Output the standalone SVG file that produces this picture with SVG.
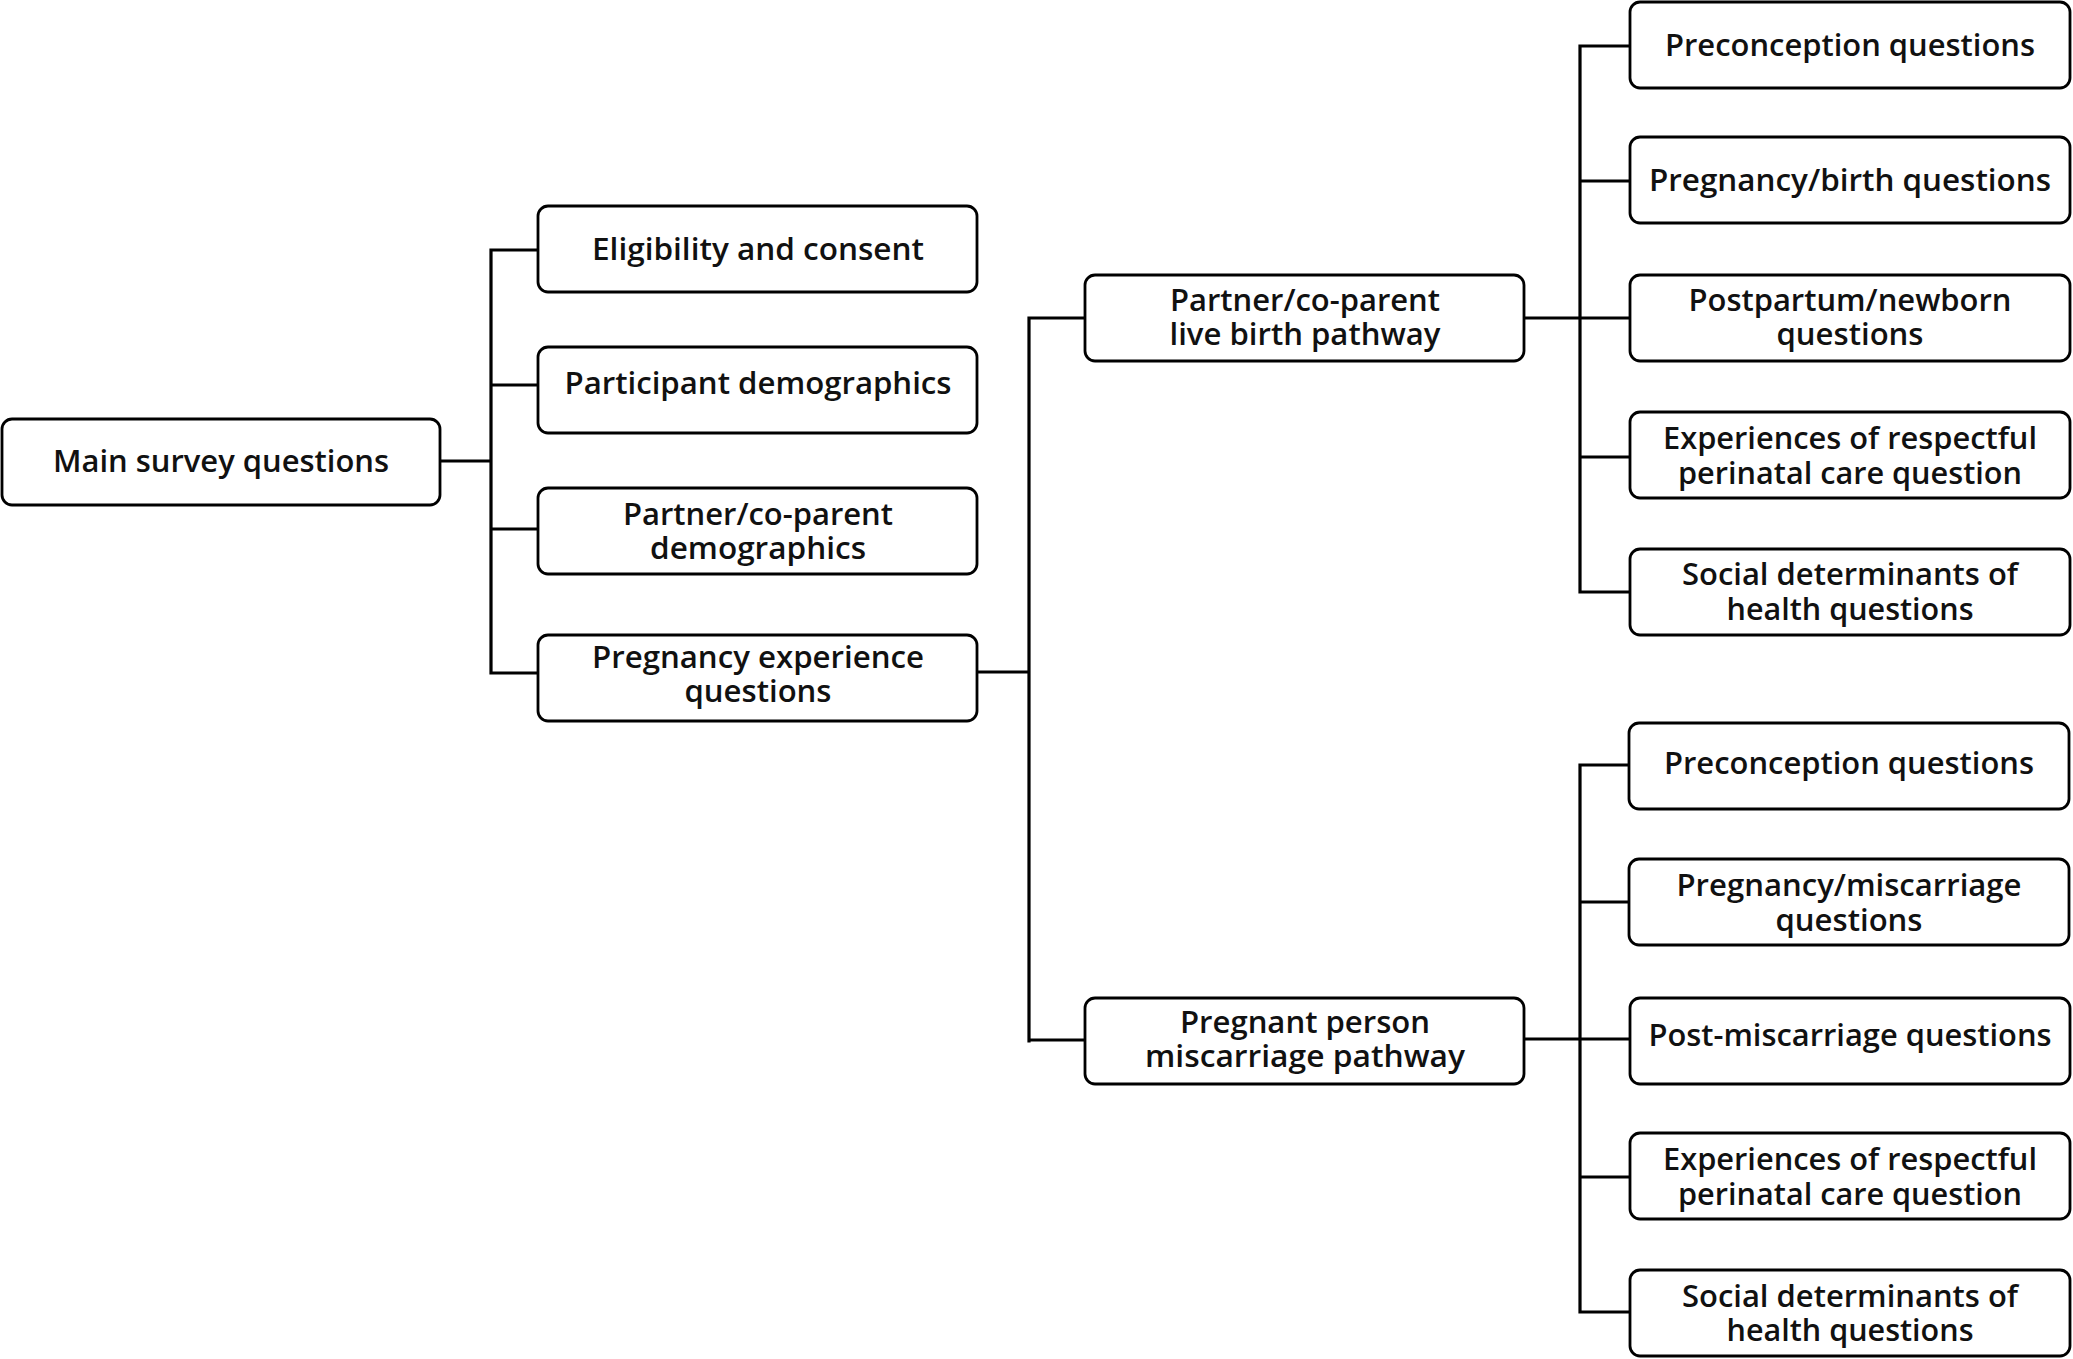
<svg xmlns="http://www.w3.org/2000/svg" width="2073" height="1359" viewBox="0 0 2073 1359">
<style>
.box{fill:#fff;stroke:#000;stroke-width:2.8}
.t{font-family:"Open Sans","Noto Sans",sans-serif;font-weight:600;font-size:30px;fill:#111;text-anchor:middle}
.c{fill:none;stroke:#000;stroke-width:3.2;stroke-linecap:square;stroke-linejoin:miter}
</style>
<rect width="2073" height="1359" fill="#fff"/>
<g id="connectors">
<path class="c" d="M440 461H491M491 250V673M491 250H538M491 385H538M491 529H538M491 673H538"/>
<path class="c" d="M977 672H1029M1029 318V1041M1029 318H1085M1029 1040H1085"/>
<path class="c" d="M1524 318H1630M1580 46V592M1580 46H1630M1580 181H1630M1580 457H1630M1580 592H1630"/>
<path class="c" d="M1524 1039H1630M1580 765V1312M1580 765H1630M1580 902H1630M1580 1177H1630M1580 1312H1630"/>
</g>
<g id="main"><rect class="box" x="2" y="419" width="438" height="86" rx="10"/><text class="t" x="221" y="472" textLength="336" lengthAdjust="spacingAndGlyphs">Main survey questions</text></g>
<g id="eligibility"><rect class="box" x="538" y="206" width="439" height="86" rx="10"/><text class="t" x="758" y="260" textLength="332" lengthAdjust="spacingAndGlyphs">Eligibility and consent</text></g>
<g id="participant"><rect class="box" x="538" y="347" width="439" height="86" rx="10"/><text class="t" x="758" y="394" textLength="387" lengthAdjust="spacingAndGlyphs">Participant demographics</text></g>
<g id="partner-demographics"><rect class="box" x="538" y="488" width="439" height="86" rx="10"/><text class="t" x="758" y="525" textLength="270" lengthAdjust="spacingAndGlyphs">Partner/co-parent</text><text class="t" x="758" y="559" textLength="216" lengthAdjust="spacingAndGlyphs">demographics</text></g>
<g id="pregnancy-experience"><rect class="box" x="538" y="635" width="439" height="86" rx="10"/><text class="t" x="758" y="668" textLength="332" lengthAdjust="spacingAndGlyphs">Pregnancy experience</text><text class="t" x="758" y="702" textLength="147" lengthAdjust="spacingAndGlyphs">questions</text></g>
<g id="live-birth"><rect class="box" x="1085" y="275" width="439" height="86" rx="10"/><text class="t" x="1305" y="311" textLength="270" lengthAdjust="spacingAndGlyphs">Partner/co-parent</text><text class="t" x="1305" y="345" textLength="271" lengthAdjust="spacingAndGlyphs">live birth pathway</text></g>
<g id="miscarriage"><rect class="box" x="1085" y="998" width="439" height="86" rx="10"/><text class="t" x="1305" y="1033" textLength="250" lengthAdjust="spacingAndGlyphs">Pregnant person</text><text class="t" x="1305" y="1067" textLength="320" lengthAdjust="spacingAndGlyphs">miscarriage pathway</text></g>
<g id="lb-preconception"><rect class="box" x="1630" y="2" width="440" height="86" rx="10"/><text class="t" x="1850" y="56" textLength="370" lengthAdjust="spacingAndGlyphs">Preconception questions</text></g>
<g id="lb-pregnancy"><rect class="box" x="1630" y="137" width="440" height="86" rx="10"/><text class="t" x="1850" y="191" textLength="402" lengthAdjust="spacingAndGlyphs">Pregnancy/birth questions</text></g>
<g id="lb-postpartum"><rect class="box" x="1630" y="275" width="440" height="86" rx="10"/><text class="t" x="1850" y="311" textLength="323" lengthAdjust="spacingAndGlyphs">Postpartum/newborn</text><text class="t" x="1850" y="345" textLength="147" lengthAdjust="spacingAndGlyphs">questions</text></g>
<g id="lb-respectful"><rect class="box" x="1630" y="412" width="440" height="86" rx="10"/><text class="t" x="1850" y="449" textLength="374" lengthAdjust="spacingAndGlyphs">Experiences of respectful</text><text class="t" x="1850" y="484" textLength="344" lengthAdjust="spacingAndGlyphs">perinatal care question</text></g>
<g id="lb-social"><rect class="box" x="1630" y="549" width="440" height="86" rx="10"/><text class="t" x="1850" y="585" textLength="336" lengthAdjust="spacingAndGlyphs">Social determinants of</text><text class="t" x="1850" y="620" textLength="247" lengthAdjust="spacingAndGlyphs">health questions</text></g>
<g id="mc-preconception"><rect class="box" x="1629" y="723" width="440" height="86" rx="10"/><text class="t" x="1849" y="774" textLength="370" lengthAdjust="spacingAndGlyphs">Preconception questions</text></g>
<g id="mc-pregnancy"><rect class="box" x="1629" y="859" width="440" height="86" rx="10"/><text class="t" x="1849" y="896" textLength="345" lengthAdjust="spacingAndGlyphs">Pregnancy/miscarriage</text><text class="t" x="1849" y="931" textLength="147" lengthAdjust="spacingAndGlyphs">questions</text></g>
<g id="mc-post"><rect class="box" x="1630" y="998" width="440" height="86" rx="10"/><text class="t" x="1850" y="1046" textLength="403" lengthAdjust="spacingAndGlyphs">Post-miscarriage questions</text></g>
<g id="mc-respectful"><rect class="box" x="1630" y="1133" width="440" height="86" rx="10"/><text class="t" x="1850" y="1170" textLength="374" lengthAdjust="spacingAndGlyphs">Experiences of respectful</text><text class="t" x="1850" y="1205" textLength="344" lengthAdjust="spacingAndGlyphs">perinatal care question</text></g>
<g id="mc-social"><rect class="box" x="1630" y="1270" width="440" height="86" rx="10"/><text class="t" x="1850" y="1307" textLength="336" lengthAdjust="spacingAndGlyphs">Social determinants of</text><text class="t" x="1850" y="1341" textLength="247" lengthAdjust="spacingAndGlyphs">health questions</text></g>
</svg>
